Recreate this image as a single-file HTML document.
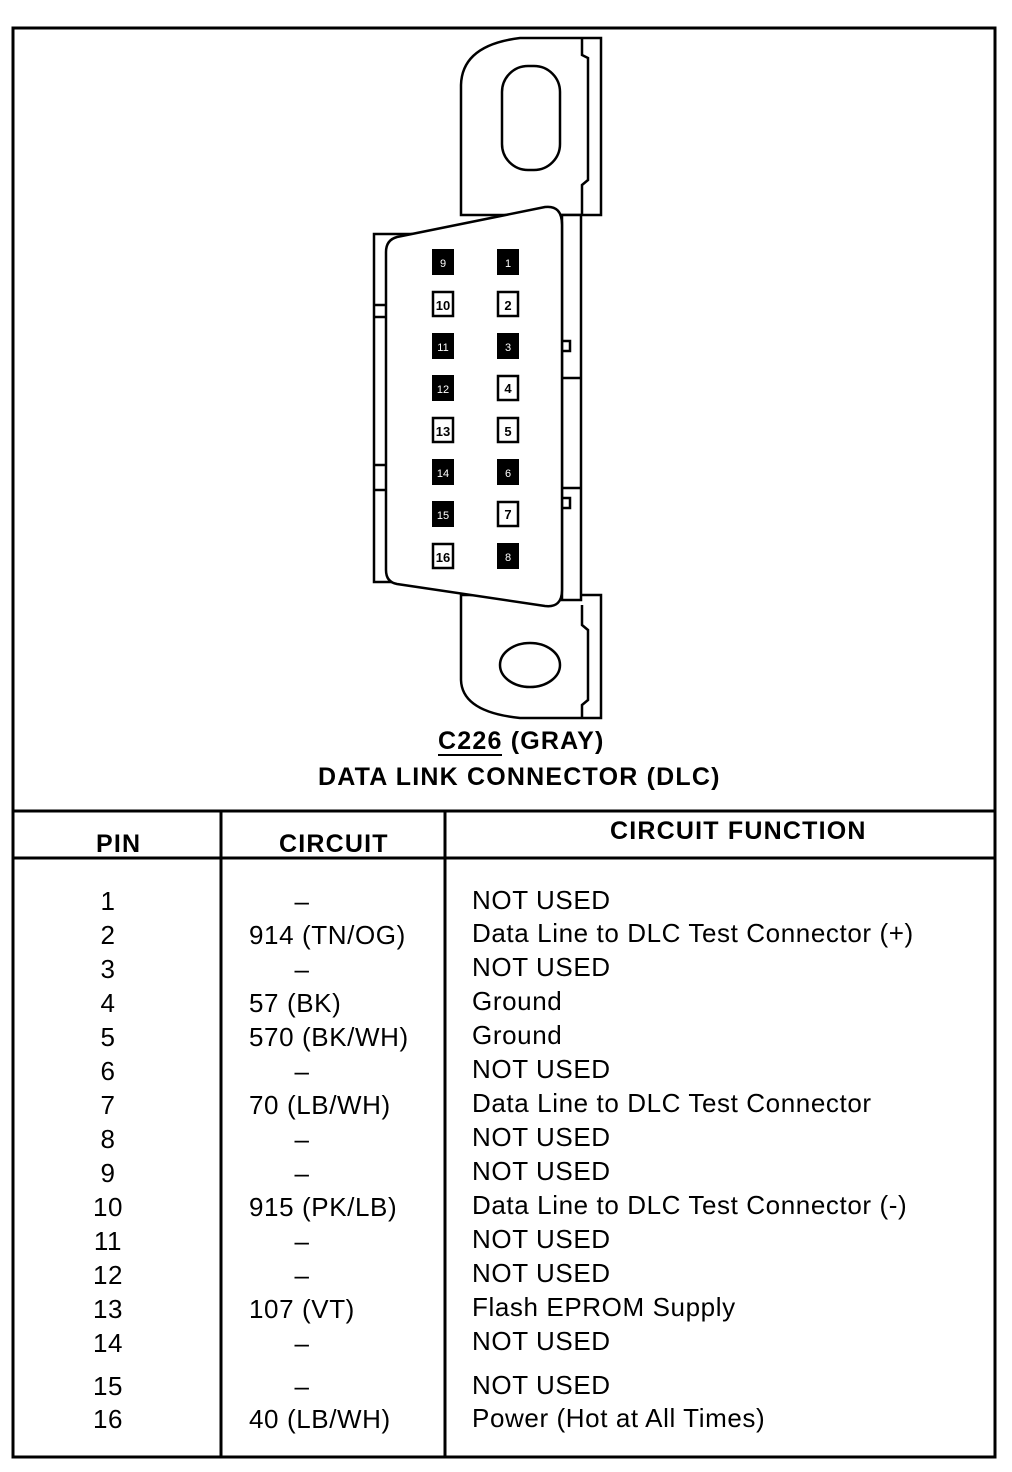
<!DOCTYPE html>
<html><head><style>
html,body{margin:0;padding:0;background:#fff;}
svg{display:block;}
text{font-family:"Liberation Sans",Arial,sans-serif;fill:#000;}
</style></head><body>
<svg width="1012" height="1472" viewBox="0 0 1012 1472" xmlns="http://www.w3.org/2000/svg">
<rect x="13" y="28" width="982" height="1429" fill="none" stroke="#000" stroke-width="3"/>
<line x1="13" y1="811" x2="995" y2="811" stroke="#000" stroke-width="3"/>
<line x1="13" y1="858" x2="995" y2="858" stroke="#000" stroke-width="3"/>
<line x1="221" y1="811" x2="221" y2="1457" stroke="#000" stroke-width="3"/>
<line x1="445" y1="811" x2="445" y2="1457" stroke="#000" stroke-width="3"/>

<g fill="none" stroke="#000" stroke-width="2.5">
<path d="M461 215 L461 85 Q462 45 520 38 L601 38 L601 215 Z" fill="#fff"/>
<path d="M582 38 L582 55 L588 58 L588 180 L582 185 L582 215"/>
<rect x="502" y="66" width="58" height="104" rx="26" fill="#fff"/>
<path d="M461 595 L601 595 L601 718 L520 718 Q462 712 461 680 Z" fill="#fff"/>
<path d="M582 605 L582 625 L588 630 L588 700 L582 705 L582 718"/>
<ellipse cx="530" cy="665" rx="30" ry="22" fill="#fff"/>
<rect x="562" y="215" width="19" height="385" fill="#fff"/>
<line x1="562" y1="378" x2="581" y2="378"/>
<line x1="562" y1="488" x2="581" y2="488"/>
<rect x="562" y="341" width="8" height="10" fill="#fff"/>
<rect x="562" y="498" width="8" height="10" fill="#fff"/>
<rect x="374" y="234" width="100" height="348" fill="#fff"/>
<line x1="374" y1="305" x2="386" y2="305"/>
<line x1="374" y1="317" x2="386" y2="317"/>
<line x1="374" y1="465" x2="386" y2="465"/>
<line x1="374" y1="490" x2="386" y2="490"/>
<path d="M397 237 L545 207 Q562 205 562 225 L562 590 Q562 608 545 606 L397 584 Q386 582 386 570 L386 252 Q386 240 397 237 Z" fill="#fff"/>
</g>

<g font-size="11" text-anchor="middle">
<rect x="432" y="249" width="22" height="26" fill="#000"/><text x="443" y="267" style="fill:#fff">9</text>
<rect x="497" y="249" width="22" height="26" fill="#000"/><text x="508" y="267" style="fill:#fff">1</text>
<rect x="433" y="292" width="20" height="24" fill="#fff" stroke="#000" stroke-width="2.5"/><text x="443" y="310" font-weight="bold" font-size="13">10</text>
<rect x="498" y="292" width="20" height="24" fill="#fff" stroke="#000" stroke-width="2.5"/><text x="508" y="310" font-weight="bold" font-size="13">2</text>
<rect x="432" y="333" width="22" height="26" fill="#000"/><text x="443" y="351" style="fill:#fff">11</text>
<rect x="497" y="333" width="22" height="26" fill="#000"/><text x="508" y="351" style="fill:#fff">3</text>
<rect x="432" y="375" width="22" height="26" fill="#000"/><text x="443" y="393" style="fill:#fff">12</text>
<rect x="498" y="376" width="20" height="24" fill="#fff" stroke="#000" stroke-width="2.5"/><text x="508" y="393" font-weight="bold" font-size="13">4</text>
<rect x="433" y="418" width="20" height="24" fill="#fff" stroke="#000" stroke-width="2.5"/><text x="443" y="436" font-weight="bold" font-size="13">13</text>
<rect x="498" y="418" width="20" height="24" fill="#fff" stroke="#000" stroke-width="2.5"/><text x="508" y="436" font-weight="bold" font-size="13">5</text>
<rect x="432" y="459" width="22" height="26" fill="#000"/><text x="443" y="477" style="fill:#fff">14</text>
<rect x="497" y="459" width="22" height="26" fill="#000"/><text x="508" y="477" style="fill:#fff">6</text>
<rect x="432" y="501" width="22" height="26" fill="#000"/><text x="443" y="519" style="fill:#fff">15</text>
<rect x="498" y="502" width="20" height="24" fill="#fff" stroke="#000" stroke-width="2.5"/><text x="508" y="519" font-weight="bold" font-size="13">7</text>
<rect x="433" y="544" width="20" height="24" fill="#fff" stroke="#000" stroke-width="2.5"/><text x="443" y="562" font-weight="bold" font-size="13">16</text>
<rect x="497" y="543" width="22" height="26" fill="#000"/><text x="508" y="561" style="fill:#fff">8</text>
</g>

<g font-weight="bold" font-size="25" letter-spacing="1.2">
<text x="438" y="749">C226 (GRAY)</text>
<line x1="438" y1="755" x2="502" y2="755" stroke="#000" stroke-width="2"/>
<text x="318" y="785">DATA LINK CONNECTOR (DLC)</text>
<text x="96" y="852">PIN</text>
<text x="279" y="852">CIRCUIT</text>
<text x="610" y="839">CIRCUIT FUNCTION</text>
</g>

<g font-size="26" letter-spacing="0.6">
<g text-anchor="middle">
<text x="108" y="910">1</text><text x="108" y="944">2</text><text x="108" y="978">3</text><text x="108" y="1012">4</text>
<text x="108" y="1046">5</text><text x="108" y="1080">6</text><text x="108" y="1114">7</text><text x="108" y="1148">8</text>
<text x="108" y="1182">9</text><text x="108" y="1216">10</text><text x="108" y="1250">11</text><text x="108" y="1284">12</text>
<text x="108" y="1318">13</text><text x="108" y="1352">14</text><text x="108" y="1395">15</text><text x="108" y="1428">16</text>
<text x="302" y="910">–</text><text x="302" y="978">–</text><text x="302" y="1080">–</text><text x="302" y="1148">–</text>
<text x="302" y="1182">–</text><text x="302" y="1250">–</text><text x="302" y="1284">–</text><text x="302" y="1352">–</text><text x="302" y="1395">–</text>
</g>
<text x="249" y="944">914 (TN/OG)</text>
<text x="249" y="1012">57 (BK)</text>
<text x="249" y="1046">570 (BK/WH)</text>
<text x="249" y="1114">70 (LB/WH)</text>
<text x="249" y="1216">915 (PK/LB)</text>
<text x="249" y="1318">107 (VT)</text>
<text x="249" y="1428">40 (LB/WH)</text>
<text x="472" y="909">NOT USED</text>
<text x="472" y="942">Data Line to DLC Test Connector (+)</text>
<text x="472" y="976">NOT USED</text>
<text x="472" y="1010">Ground</text>
<text x="472" y="1044">Ground</text>
<text x="472" y="1078">NOT USED</text>
<text x="472" y="1112">Data Line to DLC Test Connector</text>
<text x="472" y="1146">NOT USED</text>
<text x="472" y="1180">NOT USED</text>
<text x="472" y="1214">Data Line to DLC Test Connector (-)</text>
<text x="472" y="1248">NOT USED</text>
<text x="472" y="1282">NOT USED</text>
<text x="472" y="1316">Flash EPROM Supply</text>
<text x="472" y="1350">NOT USED</text>
<text x="472" y="1394">NOT USED</text>
<text x="472" y="1427">Power (Hot at All Times)</text>
</g>
</svg>
</body></html>
